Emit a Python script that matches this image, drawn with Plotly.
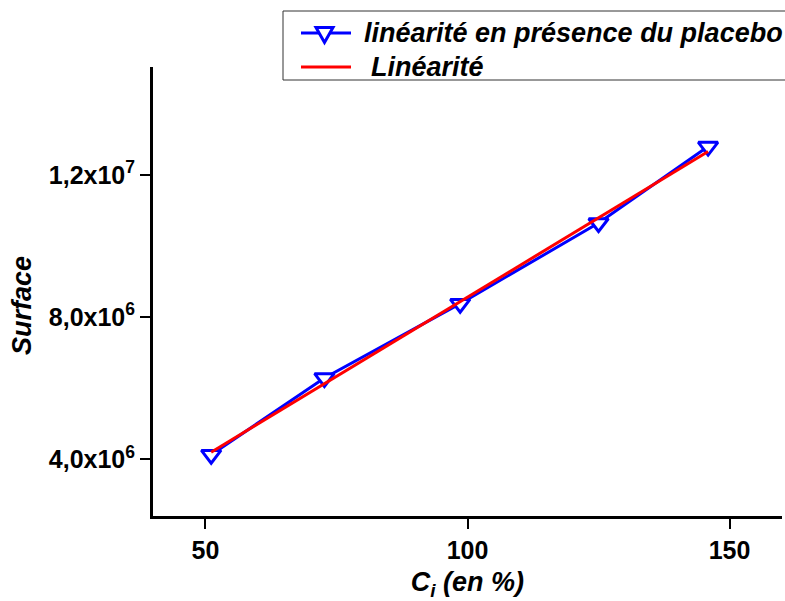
import plotly.graph_objects as go

# Measured concentration levels (%) and peak areas with placebo
conc = [51.1, 72.7, 98.6, 125.0, 145.9]
surface = [4.13e6, 6.29e6, 8.38e6, 10.65e6, 12.80e6]

# Regression line end points
fit_x = [51.1, 145.9]
fit_y = [4.20e6, 12.66e6]

ytick_vals = [4.0e6, 8.0e6, 1.2e7]
ytick_text = ["4,0x10<sup>6</sup>", "8,0x10<sup>6</sup>", "1,2x10<sup>7</sup>"]
xtick_vals = [50, 100, 150]

series_names = ["linéarité en présence du placebo", "Linéarité"]

FONT = "Liberation Sans, Arial, sans-serif"
BLUE = "#0000ff"
RED = "#ff0000"

W, H = 785, 601
ML, MR, MT, MB = 153, 3, 67, 85
PW, PH = W - ML - MR, H - MT - MB


def px(x):
    """pixel column -> paper x"""
    return (x - ML) / PW


def py(y):
    """pixel row -> paper y"""
    return (H - MB - y) / PH


fig = go.Figure()
fig.add_trace(go.Scatter(
    x=conc, y=surface, mode="lines+markers",
    name=series_names[0],
    line=dict(color=BLUE, width=3),
    marker=dict(symbol="triangle-down", size=17, color="white",
                line=dict(color=BLUE, width=3)),
))
fig.add_trace(go.Scatter(
    x=fit_x, y=fit_y, mode="lines",
    name=series_names[1],
    line=dict(color=RED, width=3),
))

# Boxed legend in the upper right corner
shapes = [
    dict(type="rect", xref="paper", yref="paper",
         x0=px(283), x1=px(792), y0=py(80), y1=py(11),
         line=dict(color="#333333", width=1), fillcolor="white", layer="above"),
    dict(type="line", xref="paper", yref="paper",
         x0=px(301), x1=px(351), y0=py(33), y1=py(33),
         line=dict(color=BLUE, width=3), layer="above"),
    dict(type="path", xref="paper", yref="paper",
         path="M{:.5f},{:.5f} L{:.5f},{:.5f} L{:.5f},{:.5f} Z".format(
             px(316), py(27.5), px(333), py(27.5), px(324.5), py(42.5)),
         line=dict(color=BLUE, width=3), fillcolor="white", layer="above"),
    dict(type="line", xref="paper", yref="paper",
         x0=px(301), x1=px(351), y0=py(67), y1=py(67),
         line=dict(color=RED, width=3), layer="above"),
]

legend_font = dict(family=FONT, size=27, color="black", weight="bold", style="italic")
annotations = [
    dict(text=series_names[0], xref="paper", yref="paper",
         x=px(362), y=py(33), xanchor="left", yanchor="middle",
         showarrow=False, font=legend_font),
    dict(text=series_names[1], xref="paper", yref="paper",
         x=px(369), y=py(67), xanchor="left", yanchor="middle",
         showarrow=False, font=legend_font),
    dict(text="Surface", xref="paper", yref="paper",
         x=px(22), y=py(306), xanchor="center", yanchor="middle",
         textangle=-90, showarrow=False,
         font=dict(family=FONT, size=27, color="black", weight="bold", style="italic")),
]

fig.update_layout(
    width=W, height=H,
    margin=dict(l=ML, r=MR, t=MT, b=MB),
    paper_bgcolor="white", plot_bgcolor="white",
    showlegend=False,
    shapes=shapes,
    annotations=annotations,
    xaxis=dict(
        range=[40, 160], tickvals=xtick_vals,
        showline=True, linecolor="black", linewidth=3,
        ticks="outside", ticklen=10, tickwidth=2, tickcolor="black",
        showgrid=False, zeroline=False,
        tickfont=dict(family=FONT, size=25, color="black", weight="bold"),
        title=dict(text="C<sub>i</sub> (en %)", standoff=14,
                   font=dict(family=FONT, size=27, color="black", weight="bold", style="italic")),
    ),
    yaxis=dict(
        range=[2.405e6, 1.504e7], tickvals=ytick_vals, ticktext=ytick_text,
        showline=True, linecolor="black", linewidth=3,
        ticks="outside", ticklen=10, tickwidth=2, tickcolor="black",
        showgrid=False, zeroline=False,
        tickfont=dict(family=FONT, size=25, color="black", weight="bold"),
    ),
)

fig.write_html("out.html")
